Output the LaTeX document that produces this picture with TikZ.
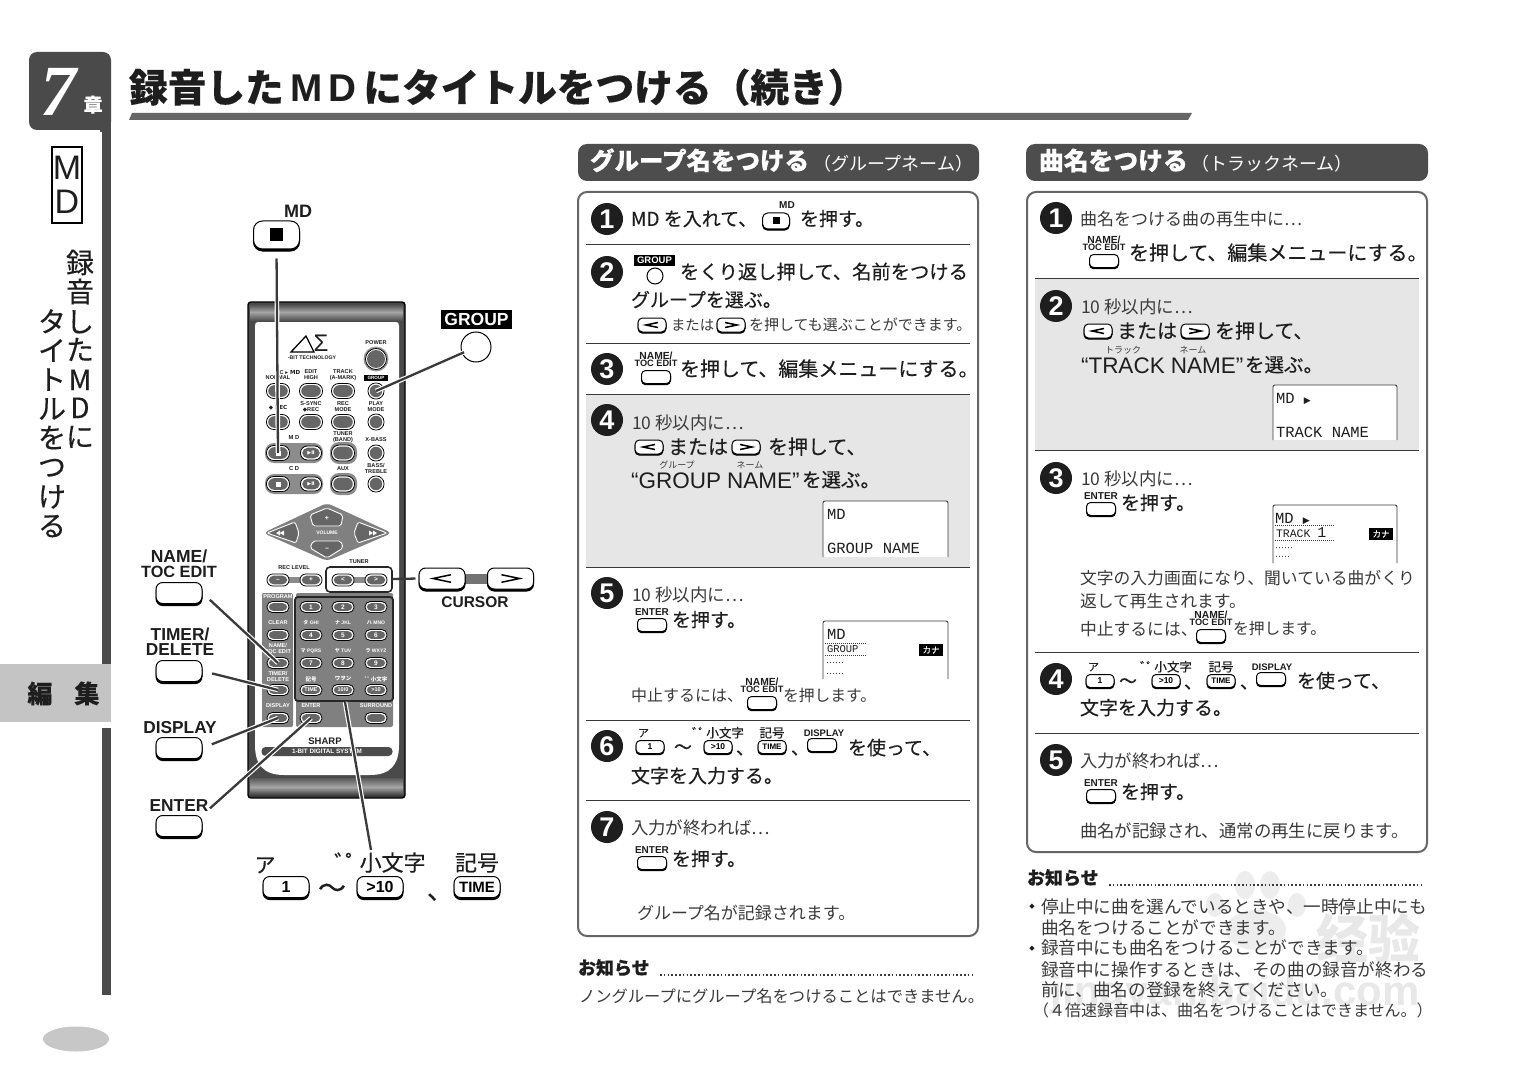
\documentclass[tikz,border=0pt]{standalone}
\usepackage{fontspec}
\setmainfont[FakeBold=0.3]{Noto Sans CJK JP}
\newfontfamily\reg{Noto Sans CJK JP}
\newfontfamily\hv{Liberation Sans}
\newfontfamily\serifit{Liberation Serif}
\newfontfamily\mono{Liberation Mono}
\newfontfamily\djv{DejaVu Sans}
\newfontfamily\cjksc{Noto Sans CJK SC}
\usetikzlibrary{calc}
\definecolor{dk}{HTML}{4A4A4A}
\definecolor{hdr}{HTML}{4D4D4D}
\definecolor{txt}{HTML}{1E1E1E}
\definecolor{sub}{HTML}{3A3A3A}
\definecolor{pale}{HTML}{E6E6E6}
\definecolor{rem}{HTML}{666666}
\newcounter{nn}
\tikzset{
  lab/.style={inner sep=0pt,outer sep=0pt,text=txt},
  sb/.style={text=sub,font=\reg},
  keyshadow/.style={inner sep=0pt,draw=black,fill=black},
  keyface/.style={inner sep=0pt,draw=black,fill=white},
  conn/.style={draw=sub,line width=2.3pt,preaction={draw=white,line width=4.6pt}},
  divider/.style={draw=sub,line width=.9pt},
  frame/.style={draw=rem,line width=2pt,rounded corners=9pt},
  dispbox/.style={draw=sub,line width=.9pt,rounded corners=2pt},
  leader/.style={draw=sub,line width=1.5pt,dash pattern=on 1.6pt off 2.2pt},
  stepno/.style={circle,fill=txt,minimum size=32pt,inner sep=0pt,text=white,font=\hv\bfseries\fontsize{27}{27}\selectfont},
  rshell/.style={inner sep=0pt,draw=black,line width=.8pt,fill=white},
  rcore/.style={inner sep=0pt,fill=rem},
  rlab/.style={inner sep=0pt,text=txt},
  chevline/.style={draw=black,line width=1.5pt,line join=miter},
  wmark/.style={inner sep=0pt,text=black!9},
}
\newcommand\dakuten{゛\kern-.5em ゜\kern-.35em }
\newcommand\txL[5][]{\stepcounter{nn}\node[lab,anchor=base west,#1] (t\thenn) at ({#2},{#3+0.36*#4}) {\fontsize{#4}{#4}\selectfont #5};}
\newcommand\txC[5][]{\stepcounter{nn}\node[lab,anchor=base,#1] (t\thenn) at ({#2},{#3+0.36*#4}) {\fontsize{#4}{#4}\selectfont #5};}
\newcommand\sfC[4]{\stepcounter{nn}\node[lab,anchor=base,font=\hv\bfseries] (t\thenn) at ({#1},{#2+0.36*#3}) {\fontsize{#3}{#3}\selectfont #4};}
\newcommand\keyK[7]{\node[keyshadow,line width=1pt,rounded corners={#5*0.32},minimum width={#4*1pt},minimum height={#5*1pt}] (#1s) at ({#2},{#3+#6}) {};
 \node[keyface,line width=1pt,rounded corners={#5*0.32},minimum width={#4*1pt},minimum height={#5*1pt}] (#1) at ({#2},{#3}) {#7};}
\newcommand\keyS[5]{\stepcounter{nn}\keyK{k\thenn}{#1}{#2}{#3}{#4}{1.2}{#5}}
\newcommand\remB[6]{\node[rshell,rounded corners={#5*0.48},minimum width={#4*1pt},minimum height={#5*1pt}] (#1) at ({#2},{#3}) {};
 \stepcounter{nn}\node[rcore,rounded corners={#5*0.4},minimum width={(#4-3.4)*1pt},minimum height={(#5-3.4)*1pt},text=white,font=\hv\bfseries\fontsize{6.5}{7}\selectfont] (c\thenn) at ({#2},{#3}) {#6};}
\newcommand\remL[4][5.6]{\stepcounter{nn}\node[rlab,font=\hv\bfseries\fontsize{#1}{6}\selectfont] (r\thenn) at ({#2},{#3}) {#4};}
\newcommand\chL[3]{\draw[chevline] ({#1+#3},{#2-0.42*#3}) -- ({#1-#3},{#2}) -- ({#1+#3},{#2+0.42*#3});}
\newcommand\chR[3]{\draw[chevline] ({#1-#3},{#2-0.42*#3}) -- ({#1+#3},{#2}) -- ({#1-#3},{#2+0.42*#3});}
\newcommand\keyCL[2]{\keyS{#1}{#2}{28}{14}{}\chL{#1}{#2}{6}}
\newcommand\keyCR[2]{\keyS{#1}{#2}{28}{14}{}\chR{#1}{#2}{6}}
\newcommand\keyENT[2]{\sfC{#1}{#2-13}{10}{ENTER}\keyS{#1}{#2}{29}{13}{}}
\newcommand\keyNAM[2]{\sfC{#1}{#2-21}{10.3}{NAME/}\sfC{#1}{#2-13.5}{9.2}{TOC EDIT}\keyS{#1}{#2}{29}{13}{}}
\newcommand\rubyrow[6]{%
\txL{#1-12}{#6-14}{11}{ア}\keyS{#1}{#6}{28}{13}{\hv\bfseries\fontsize{8.5}{9}\selectfont 1}
\txC{#2}{#6}{18}{～}
\txC{#3}{#6-14}{12.5}{\dakuten 小文字}\keyS{#3}{#6}{28}{13}{\hv\bfseries\fontsize{8.5}{9}\selectfont >10}
\txC{#3+27}{#6+1}{18}{、}
\txC{#5}{#6-14}{12.5}{記号}\keyS{#5}{#6}{28}{13}{\hv\bfseries\fontsize{8}{9}\selectfont TIME}
\txC{#5+28}{#6+1}{18}{、}
}
\begin{document}
\begin{tikzpicture}[x=1pt,y=-1pt]
\useasboundingbox[fill=white] (0,0) rectangle (1518,1086);

%=== watermark
\fill[black!7] (1245,885) ellipse (10pt and 14pt);
\fill[black!7] (1270,885) ellipse (10pt and 14pt);
\fill[black!7] (1215,905) ellipse (9pt and 12pt);
\fill[black!7] (1297,905) ellipse (9pt and 12pt);
\fill[black!7] (1256,930) ellipse (30pt and 20pt);
\node[wmark,font=\cjksc\bfseries\fontsize{52}{52}\selectfont] (wmjy) at (1368,938) {经验};
\node[wmark,font=\hv\bfseries\fontsize{42}{42}\selectfont] (wmurl) at (1235,995) {jingyan.baidu.com};

%=== left band
\fill[dk] (102,130) rectangle (111,664);
\fill[dk] (102,728) rectangle (111,995);
\fill[dk,rounded corners=8pt] (29,52) rectangle (111,130);
\fill[dk] (100,120) rectangle (111,132);
\node[lab,text=white,font=\serifit\bfseries\itshape\fontsize{72}{72}\selectfont] (chapno) at (58,92) {7};
\txC[text=white,font=\bfseries]{93}{105}{19}{章}
\fill[pale!85!black] (0,664) rectangle (111,722);
\txC[font=\bfseries]{40}{694}{25}{編}
\txC[font=\bfseries]{87}{694}{25}{集}
\fill[black!22] (76,1039) ellipse (33pt and 12.5pt);
\draw[draw=black,line width=1.2pt] (52,147) rectangle (82,223);
\txC{67}{167}{34}{\hv M}
\txC{67}{201}{34}{\hv D}
\foreach \ch/\yy in {録/263,音/292,し/322,た/350,M/380,D/408,に/437}{\txC{80}{\yy}{28}{\ch}}
\foreach \ch/\yy in {タ/322,イ/351,ト/380,ル/409,を/438,つ/467,け/497,る/526}{\txC{52}{\yy}{28}{\ch}}

%=== title
\txL[font=\bfseries]{129}{88}{38.7}{録音した\hv\bfseries\,M\,D\,\normalfont\bfseries にタイトルをつける（続き）}
\fill[rem] (132,113) -- (1192,113) -- (1188,120) -- (129,120) -- cycle;

%=== remote body
\draw[draw=black,line width=1.4pt,fill=dk,rounded corners=3pt] (248,302) rectangle (405,798);
\shade[top color=dk,bottom color=black!35] (250,304) rectangle (403,312);
\shade[top color=black!35,bottom color=dk] (250,312) rectangle (403,321);
\shade[top color=black!65,bottom color=black!35] (250,778) rectangle (403,787);
\shade[top color=black!35,bottom color=black!80] (250,787) rectangle (403,796);
\fill[white] (258,322) -- (396,322) .. controls (398,322) and (399,323) .. (399,326) -- (399,745) .. controls (399,765) and (390,775) .. (370,775) -- (284,775) .. controls (264,775) and (255,765) .. (255,745) -- (255,326) .. controls (255,323) and (256,322) .. (258,322) -- cycle;
\draw[line width=1.3pt] (291,352) -- (306,336) -- (314,352) -- cycle;
\node[lab,font=\hv\fontsize{24}{24}\selectfont] (sigma) at (321,343) {Σ};
\remL[5.2]{312}{358}{-BIT TECHNOLOGY}
\remL{376}{343}{POWER}
\node[circle,fill=black!40,minimum size=25pt,inner sep=0] (powerO) at (376,359) {};
\node[circle,draw=black,line width=.8pt,fill=white,minimum size=21pt,inner sep=0] (powerI) at (376,359) {};
\node[circle,fill=rem,minimum size=18pt,inner sep=0] (powerC) at (376,359) {};
\remL{290}{372}{C \djv\bfseries▸ MD}\remL{311}{372}{EDIT}\remL{343}{372}{TRACK}
\remL{278}{378}{NORMAL}\remL{311}{378}{HIGH}\remL{343}{378}{(A-MARK)}
\node[fill=black,text=white,inner sep=0,minimum width=24pt,minimum height=6pt,font=\hv\bfseries\fontsize{4.6}{5}\selectfont] (rgrouptag) at (376,378) {GROUP};
\remB{rb11}{278}{391}{23}{15}{}\remB{rb12}{311}{391}{23}{15}{}\remB{rb13}{343}{391}{23}{15}{}
\remB{rgroup}{376}{391}{16}{16}{}
\remL{278}{408}{\djv\bfseries◆ REC}\remL{311}{404}{S-SYNC}\remL{311}{410}{\djv\bfseries◆\hv\bfseries REC}\remL{343}{404}{REC}\remL{343}{410}{MODE}\remL{376}{404}{PLAY}\remL{376}{410}{MODE}
\remB{rb21}{278}{422}{23}{15}{}\remB{rb22}{311}{422}{23}{15}{}\remB{rb23}{343}{422}{23}{15}{}
\remB{rb24}{376}{422}{16}{16}{}
\remL[5.8]{294}{438}{M D}\remL{343}{434}{TUNER}\remL{343}{440}{(BAND)}\remL{376}{440}{X-BASS}
\fill[black!45,rounded corners=9pt] (265,443) rectangle (323,463);
\fill[black!45,rounded corners=9pt] (330,442) rectangle (357,464);
\remB{rmdstop}{278}{453}{23}{15}{}
\node[fill=white,minimum size=5pt,inner sep=0] (rmdsq) at (278,453) {};
\remB{rmdplay}{311}{453}{21}{14}{\djv\fontsize{5}{5}\selectfont ▶Ⅱ}
\remB{rtuner}{343}{453}{23}{16}{}\remB{rxb}{376}{453}{16}{16}{}
\remL[5.8]{294}{469}{C D}\remL{343}{469}{AUX}\remL{376}{466}{BASS/}\remL{376}{472}{TREBLE}
\fill[black!45,rounded corners=9pt] (265,474) rectangle (323,494);
\fill[black!45,rounded corners=9pt] (330,473) rectangle (357,495);
\remB{rcdstop}{278}{484}{23}{15}{}
\node[fill=white,minimum size=5pt,inner sep=0] (rcdsq) at (278,484) {};
\remB{rcdplay}{311}{484}{21}{14}{\djv\fontsize{5}{5}\selectfont ▶Ⅱ}
\remB{raux}{343}{484}{23}{16}{}\remB{rbt}{376}{484}{16}{16}{}
\fill[black!50,rounded corners=5pt] (263,533) -- (327,503) -- (392,533) -- (327,561) -- cycle;
\draw[line width=.9pt,fill=rem,draw=white,rounded corners=2pt] (310,515) -- (327,508) -- (343,515) -- (341,526) -- (313,526) -- cycle;
\draw[line width=.9pt,fill=rem,draw=white,rounded corners=2pt] (310,548) -- (327,558) -- (343,548) -- (341,541) -- (313,541) -- cycle;
\draw[line width=.9pt,fill=rem,draw=white,rounded corners=2pt] (267,533) -- (295,522) -- (299,533) -- (296,543) -- cycle;
\draw[line width=.9pt,fill=rem,draw=white,rounded corners=2pt] (387,533) -- (358,522) -- (354,533) -- (358,543) -- cycle;
\fill[white] (276,533) -- (280,530.5) -- (280,535.5) -- cycle (280,533) -- (284,530.5) -- (284,535.5) -- cycle;
\fill[white] (377,533) -- (373,530.5) -- (373,535.5) -- cycle (373,533) -- (369,530.5) -- (369,535.5) -- cycle;
\node[lab,text=white,font=\hv\bfseries\fontsize{7}{7}\selectfont] (vplus) at (327,518) {+};
\node[lab,text=white,font=\hv\bfseries\fontsize{7}{7}\selectfont] (vminus) at (327,549) {–};
\node[lab,text=white,font=\hv\bfseries\fontsize{5}{5}\selectfont] (vvol) at (327,533) {VOLUME};
\remL{294}{568}{REC LEVEL}\remL{359}{562}{TUNER}
\fill[black!45] (285,577) rectangle (303,583);
\remB{rrm}{278}{580}{22}{12}{–}\remB{rrp}{311}{580}{22}{12}{+}
\draw[line width=1.6pt,draw=black!85,rounded corners=4pt] (326,567) rectangle (392,592);
\fill[black!45] (350,577) rectangle (368,583);
\remB{rcl}{343}{580}{22}{12}{<}\remB{rcr}{376}{580}{22}{12}{>}
\fill[black!50,rounded corners=2pt] (262,593) rectangle (293,727);
\fill[black!50,rounded corners=2pt] (296,593) rectangle (393,727);
\draw[line width=1.8pt,draw=black!85,rounded corners=3pt] (295,597) rectangle (393,701);
\begin{scope}[rlab/.append style={text=white}]
\remL{278}{597}{PROGRAM}\remL{278}{623}{CLEAR}\remL{278}{646}{NAME/}\remL{278}{652}{TOC EDIT}\remL{278}{674}{TIMER/}\remL{278}{680}{DELETE}\remL{278}{706}{DISPLAY}\remL{311}{706}{ENTER}\remL{376}{706}{SURROUND}
\remL[5]{311}{623}{\reg タ\hv\bfseries\ GHI}\remL[5]{343}{623}{\reg ナ\hv\bfseries\ JKL}\remL[5]{376}{623}{\reg ハ\hv\bfseries\ MNO}
\remL[5]{311}{651}{\reg マ\hv\bfseries\ PQRS}\remL[5]{343}{651}{\reg ヤ\hv\bfseries\ TUV}\remL[5]{376}{651}{\reg ラ\hv\bfseries\ WXYZ}
\remL[5.5]{311}{679}{\reg 記号}\remL[5.5]{343}{679}{\reg ワヲン}\remL[5.5]{376}{679}{\reg \dakuten 小文字}
\end{scope}
\remB{rprog}{278}{607}{22}{11}{}\remB{rclr}{278}{635}{22}{11}{}\remB{rname}{278}{663}{22}{11}{}\remB{rtimer}{278}{690}{22}{11}{}
\remB{rdisp}{278}{718}{22}{11}{}\remB{rent}{311}{718}{22}{11}{}\remB{rsur}{376}{718}{22}{11}{}
\remB{n1}{311}{607}{22}{11}{1}\remB{n2}{343}{607}{22}{11}{2}\remB{n3}{376}{607}{22}{11}{3}
\remB{n4}{311}{635}{22}{11}{4}\remB{n5}{343}{635}{22}{11}{5}\remB{n6}{376}{635}{22}{11}{6}
\remB{n7}{311}{663}{22}{11}{7}\remB{n8}{343}{663}{22}{11}{8}\remB{n9}{376}{663}{22}{11}{9}
\remB{nt}{311}{690}{22}{11}{\fontsize{5.5}{6}\selectfont TIME}\remB{n0}{343}{690}{22}{11}{\fontsize{5.5}{6}\selectfont 10/0}\remB{nx}{376}{690}{22}{11}{\fontsize{5.5}{6}\selectfont >10}
\node[lab,font=\hv\bfseries\fontsize{9.5}{10}\selectfont] (sharp) at (325,741) {SHARP};
\node[fill=black!70,rounded corners=4pt,minimum width=131pt,minimum height=9pt,inner sep=0,text=white,font=\hv\bfseries\fontsize{6.3}{6.3}\selectfont] (rbar) at (327,751.5) {1-BIT DIGITAL SYSTEM};

%=== callout keys
\sfC{298}{211}{18}{MD}
\keyK{kmd}{276.5}{235}{46}{28}{2}{}
\node[fill=black,minimum size=13pt,inner sep=0] (kmdsq) at (276.5,235) {};
\node[fill=black,minimum width=71pt,minimum height=19pt,inner sep=0,text=white,font=\hv\bfseries\fontsize{17.5}{18}\selectfont] (grouplabel) at (476.5,319.5) {GROUP};
\node[circle,draw=black,line width=1pt,fill=white,minimum size=30pt,inner sep=0] (kgroup) at (476,347) {};
\sfC{179}{556}{17.5}{NAME/}\sfC{179}{572}{16.3}{TOC EDIT}
\keyK{kname}{179}{593}{46}{21}{2}{}
\sfC{180}{634}{17.3}{TIMER/}\sfC{180}{649}{17.3}{DELETE}
\keyK{ktimer}{179}{671}{46}{21}{2}{}
\sfC{180}{727}{17.3}{DISPLAY}
\keyK{kdisplay}{179}{748}{46}{21}{2}{}
\sfC{179}{805}{17.3}{ENTER}
\keyK{kenter}{179}{826}{46}{21}{2}{}
\fill[black!55] (465,574) rectangle (487,584);
\keyK{kcl}{442}{578.5}{46}{21}{2}{}\chL{442}{578.5}{9}
\keyK{kcr}{510.5}{578.5}{46}{21}{2}{}\chR{510.5}{578.5}{9}
\sfC{475}{602}{15.5}{CURSOR}
\txC{265}{865}{21}{ア}
\keyK{kone}{286}{887}{46}{21}{2}{\hv\bfseries\fontsize{16}{16}\selectfont 1}
\txC{332}{888}{28}{～}
\txC{380}{863}{22}{\dakuten 小文字}
\keyK{kgt}{380}{887}{46}{21}{2}{\hv\bfseries\fontsize{16}{16}\selectfont >10}
\txC{440}{890}{26}{、}
\txC{477}{863}{22}{記号}
\keyK{ktime}{477}{887}{46}{21}{2}{\hv\bfseries\fontsize{15}{15}\selectfont TIME}

%=== connectors
\coordinate (numbox) at (345,702);
\coordinate (numlabel) at (371,850);
\coordinate (tunerbox) at (392,579);
\draw[conn,shorten <=9pt] (kmd.south) -- (rmdstop.center);
\draw[conn,shorten <=13pt] (kgroup.center) -- (rgroup.center);
\draw[conn,shorten <=10pt] (kname.east) -- (rname.center);
\draw[conn,shorten <=10pt] (ktimer.east) -- (rtimer.center);
\draw[conn,shorten <=10pt] (kdisplay.east) -- (rdisp.center);
\draw[conn,shorten <=10pt] (kenter.north east) -- (rent.center);
\draw[conn] (numbox) -- (numlabel);
\draw[draw=sub,line width=2.3pt,shorten >=3pt] (tunerbox) -- (kcl.west);

%=== headers
\fill[hdr,rounded corners=9pt] (578,144) rectangle (979,181);
\txL[text=white,font=\bfseries]{590}{161}{24.5}{グループ名をつける}
\txL[text=white,font=\reg]{813}{164}{18}{（グループネーム）}
\fill[hdr,rounded corners=9pt] (1026,144) rectangle (1428,181);
\txL[text=white,font=\bfseries]{1039}{161}{24.8}{曲名をつける}
\txL[text=white,font=\reg]{1191}{164}{18}{（トラックネーム）}

%=== left panel
\fill[white,rounded corners=9pt] (578,192) rectangle (978,936);
\draw[frame] (578,192) rectangle (978,936);
\fill[pale] (586,395) rectangle (970,567);
\foreach \yy in {244,343,394,567,720,800}{\draw[divider] (586,\yy) -- (970,\yy);}
\node[stepno] (l1) at (607,219) {1};
\node[stepno] (l2) at (607,272) {2};
\node[stepno] (l3) at (607,369) {3};
\node[stepno] (l4) at (607,420) {4};
\node[stepno] (l5) at (607,593) {5};
\node[stepno] (l6) at (607,746) {6};
\node[stepno] (l7) at (607,827) {7};
\txL{631}{219}{19}{MD を入れて、}
\sfC{787}{205}{10}{MD}
\keyS{776}{221}{27}{16}{}
\node[fill=black,minimum size=7pt,inner sep=0] (s1sq) at (776,221) {};
\txL{800}{219}{19}{を押す。}
\node[fill=black,minimum width=41pt,minimum height=11pt,inner sep=0,text=white,font=\hv\bfseries\fontsize{9.5}{10}\selectfont] (l2g) at (654.5,260.5) {GROUP};
\node[circle,draw=black,line width=1pt,fill=white,minimum size=16pt,inner sep=0] (l2c) at (655,276) {};
\txL{680}{272}{19.3}{をくり返し押して、名前をつける}
\txL{631}{300}{19}{グループを選ぶ。}
\keyCL{652}{325}
\txL[sb]{671}{325}{14.4}{または}
\keyCR{731}{325}
\txL[sb]{749}{325}{15}{を押しても選ぶことができます。}
\keyNAM{656}{377}
\txL{680}{369}{20}{を押して、編集メニューにする。}
\txL[sb]{632}{423}{17.5}{10 秒以内に…}
\keyCL{649}{447}
\txL{668}{447}{20}{または}
\keyCR{746}{447}
\txL{768}{447}{20}{を押して、}
\txL{631}{480}{22.5}{\hv “GROUP NAME”}
\txL{802}{480}{19.5}{を選ぶ。}
\txC[sb]{677}{465}{9}{グループ}
\txC[sb]{750}{465}{9}{ネーム}
\fill[white] (823,501) rectangle (948,557);
\draw[dispbox] (823,557) -- (823,501) -- (948,501) -- (948,557);
\txL[font=\mono]{827}{514}{15.5}{MD}
\txL[font=\mono]{827}{548}{15.5}{GROUP  NAME}
\txL[sb]{632}{595}{17.5}{10 秒以内に…}
\keyENT{652}{625}
\txL{672}{620}{19}{を押す。}
\draw[dispbox] (823,679) -- (823,621) -- (948,621) -- (948,679);
\txL[font=\mono]{827}{634}{15.5}{MD}
\txL[font=\mono]{827}{649}{10.5}{GROUP}
\draw[sub,line width=.7pt,dash pattern=on .8pt off 1.2pt] (825,643.5) -- (866,643.5);
\draw[sub,line width=.7pt,dash pattern=on .8pt off 1.2pt] (825,655) -- (866,655);
\draw[sub,line width=.7pt,dash pattern=on 1.4pt off 1.6pt] (827,662) -- (843,662);
\draw[sub,line width=.7pt,dash pattern=on 1.4pt off 1.6pt] (827,673) -- (843,673);
\node[fill=black,minimum width=24pt,minimum height=12pt,inner sep=0,text=white,font=\fontsize{8.5}{9}\selectfont] (lkana) at (931,650) {カナ};
\txL[sb]{631}{696}{16}{中止するには、}
\keyNAM{762}{703}
\txL[sb]{783}{696}{15.8}{を押します。}
\rubyrow{650}{683}{718}{739}{772}{747}
\sfC{824}{733}{9.5}{DISPLAY}
\keyS{822}{745}{29}{13}{}
\txL{848}{748}{19}{を使って、}
\txL{631}{776}{19}{文字を入力する。}
\txL[sb]{631}{828}{17.4}{入力が終われば…}
\keyENT{652}{863}
\txL{672}{859}{19}{を押す。}
\txL[sb]{637}{913}{17}{グループ名が記録されます。}
\txL[font=\bfseries]{578}{968}{18}{お知らせ}
\draw[leader] (660,975) -- (973,975);
\txL[sb]{579}{997}{16.3}{ノングループにグループ名をつけることはできません。}

%=== right panel
\fill[white,rounded corners=9pt] (1027,192) rectangle (1427,852);
\draw[frame] (1027,192) rectangle (1427,852);
\fill[pale] (1035,279) rectangle (1419,450);
\foreach \yy in {278,450,652,733}{\draw[divider] (1035,\yy) -- (1419,\yy);}
\node[stepno] (r1) at (1056,218) {1};
\node[stepno] (r2) at (1056,306) {2};
\node[stepno] (r3) at (1056,478) {3};
\node[stepno] (r4) at (1056,679) {4};
\node[stepno] (r5) at (1056,760) {5};
\txL[sb]{1080}{219}{17}{曲名をつける曲の再生中に…}
\keyNAM{1104}{261}
\txL{1129}{253}{20}{を押して、編集メニューにする。}
\txL[sb]{1081}{307}{17.5}{10 秒以内に…}
\keyCL{1098}{331}
\txL{1117}{331}{20}{または}
\keyCR{1195}{331}
\txL{1215}{331}{20}{を押して、}
\txL{1081}{365}{22.5}{\hv “TRACK NAME”}
\txL{1245}{365}{19.5}{を選ぶ。}
\txC[sb]{1123}{350}{9}{トラック}
\txC[sb]{1193}{350}{9}{ネーム}
\fill[white] (1273,385) rectangle (1397,440);
\draw[dispbox] (1273,440) -- (1273,385) -- (1397,385) -- (1397,440);
\txL[font=\mono]{1276}{398}{15.5}{MD \djv\fontsize{9}{9}\selectfont ▶}
\txL[font=\mono]{1276}{432}{15.5}{TRACK  NAME}
\txL[sb]{1081}{479}{17.5}{10 秒以内に…}
\keyENT{1101}{509}
\txL{1121}{503}{19}{を押す。}
\draw[dispbox] (1273,563) -- (1273,505) -- (1397,505) -- (1397,563);
\txL[font=\mono]{1275}{518}{15.5}{MD \djv\fontsize{9}{9}\selectfont ▶}
\txL[font=\mono]{1276}{533}{11.5}{TRACK  \fontsize{15}{15}\selectfont 1}
\draw[sub,line width=.7pt,dash pattern=on .8pt off 1.2pt] (1275,525.5) -- (1334,525.5);
\draw[sub,line width=.7pt,dash pattern=on .8pt off 1.2pt] (1275,540) -- (1334,540);
\draw[sub,line width=.7pt,dash pattern=on 1.4pt off 1.6pt] (1276,547) -- (1292,547);
\draw[sub,line width=.7pt,dash pattern=on 1.4pt off 1.6pt] (1276,556) -- (1290,556);
\node[fill=black,minimum width=24pt,minimum height=12pt,inner sep=0,text=white,font=\fontsize{8.5}{9}\selectfont] (rkana) at (1381,534) {カナ};
\txL[sb]{1080}{578}{16.8}{文字の入力画面になり、聞いている曲がくり}
\txL[sb]{1080}{601}{16.8}{返して再生されます。}
\txL[sb]{1080}{629}{16.8}{中止するには、}
\keyNAM{1211}{636}
\txL[sb]{1233}{629}{15.8}{を押します。}
\rubyrow{1100}{1128}{1166}{1187}{1221}{681}
\sfC{1272}{667}{9.5}{DISPLAY}
\keyS{1271}{679}{29}{13}{}
\txL{1297}{681}{19}{を使って、}
\txL{1080}{708}{19}{文字を入力する。}
\txL[sb]{1080}{761}{17.4}{入力が終われば…}
\keyENT{1101}{796}
\txL{1121}{792}{19}{を押す。}
\txL[sb]{1080}{831}{17.4}{曲名が記録され、通常の再生に戻ります。}
\txL[font=\bfseries]{1027}{878}{18}{お知らせ}
\draw[leader] (1109,885) -- (1421,885);
\node[lab,font=\djv\fontsize{7}{7}\selectfont] (bul1) at (1032,907) {◆};
\txL[sb]{1041}{907}{17.6}{停止中に曲を選んでいるときや、一時停止中にも}
\txL[sb]{1041}{928}{17.6}{曲名をつけることができます。}
\node[lab,font=\djv\fontsize{7}{7}\selectfont] (bul2) at (1032,949) {◆};
\txL[sb]{1041}{948}{17.6}{録音中にも曲名をつけることができます。}
\txL[sb]{1041}{970}{17.6}{録音中に操作するときは、その曲の録音が終わる}
\txL[sb]{1041}{990}{17.6}{前に、曲名の登録を終えてください。}
\txL[sb]{1033}{1011}{16}{（４倍速録音中は、曲名をつけることはできません。）}
\end{tikzpicture}
\end{document}
